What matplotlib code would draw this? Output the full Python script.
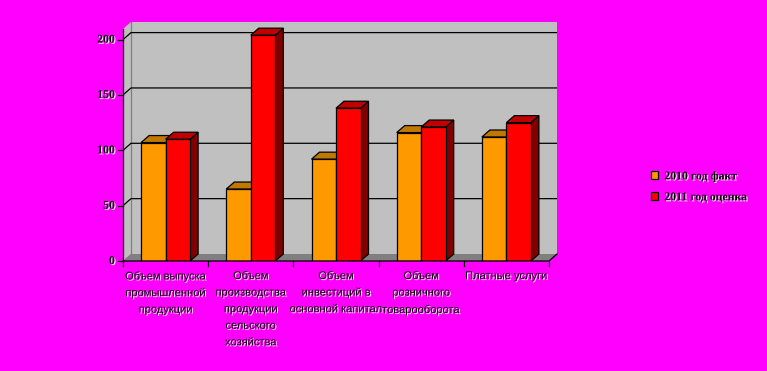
import matplotlib
matplotlib.use('Agg')
import matplotlib.pyplot as plt
from matplotlib.patches import Polygon, Rectangle, Patch
import matplotlib.patheffects as pe

categories = [
    "Объем выпуска\nпромышленной\nпродукции",
    "Объем\nпроизводства\nпродукции\nсельского\nхозяйства",
    "Объем\nинвестиций в\nосновной капитал",
    "Объем\nрозничного\nтоварооборота",
    "Платные услуги",
]
series_names = ["2010 год факт", "2011 год оценка"]
values_2010 = [107, 65, 92, 116, 112]
values_2011 = [110, 204, 138, 121, 125]
yticks = [0, 50, 100, 150, 200]

W, H = 767, 371
BG = '#FF00FF'
fig = plt.figure(figsize=(W / 100, H / 100), dpi=100, facecolor=BG)

ax_l, ax_r, ax_b, ax_t = 123, 557, 261, 22
ax = fig.add_axes([ax_l / W, (H - ax_b) / H, (ax_r - ax_l) / W, (ax_b - ax_t) / H])
ax.set_axis_off()
ax.patch.set_alpha(0)

px_x = 85.2
px_y = 1.107
xmax = (ax_r - ax_l) / px_x
ymax = (ax_b - ax_t) / px_y
ax.set_xlim(0, xmax)
ax.set_ylim(0, ymax)
dx = 8.0 / px_x
dy = 7.0 / px_y
n = len(categories)

shadow = [pe.SimplePatchShadow(offset=(0.8, -0.8), shadow_rgbFace='white', alpha=0.9), pe.Normal()]

# walls
ax.add_patch(Polygon([(0, 0), (dx, dy), (dx, ymax), (0, ymax - dy)], closed=True,
                     facecolor='#C0C0C0', edgecolor='none', zorder=1))
ax.add_patch(Rectangle((dx, dy), n, ymax - dy, facecolor='#C0C0C0', edgecolor='none', zorder=1))
ax.plot([dx, dx], [dy, ymax], color='#808080', lw=0.9, zorder=1.5)
# floor
ax.add_patch(Polygon([(0, 0), (n, 0), (n + dx, dy), (dx, dy)], closed=True,
                     facecolor='#808080', edgecolor='none', zorder=1.2))
# gridlines
for v in yticks[1:]:
    ax.plot([0, dx, n + dx], [v, v + dy, v + dy], color='black', lw=0.9, zorder=2)

# axes lines
ax.plot([0, 0], [0, ymax - dy], color='black', lw=0.9, zorder=6, clip_on=False)
ax.plot([0, n, n + dx], [0, 0, dy], color='black', lw=0.9, zorder=6, clip_on=False)
tick_x = 5 / px_x
tick_y = 5 / px_y
for v in yticks:
    ax.plot([-tick_x, 0], [v, v], color='black', lw=0.9, zorder=6, clip_on=False)
    ax.text(-8 / px_x, v, str(v), ha='right', va='center', fontsize=8.5,
            family='Liberation Serif', fontweight='bold', path_effects=shadow)
for i in range(n + 1):
    ax.plot([i, i], [0, -tick_y], color='black', lw=0.9, zorder=6, clip_on=False)

for i, lab in enumerate(categories):
    ax.text(i + 0.5, -10 / px_y, lab, ha='center', va='top', fontsize=8,
            family='Liberation Sans', linespacing=1.82, path_effects=shadow)

# bars
bw = 24.5 / px_x
start = (px_x - 2 * 24.5) / 2 / px_x
series = [(values_2010, '#FF9900', '#C07800', '#804C00'),
          (values_2011, '#FF0000', '#C00000', '#800000')]
for i in range(n):
    for j, (vals, fc, tc, sc) in enumerate(series):
        x0 = i + start + j * bw
        x1 = x0 + bw
        h = vals[i]
        z = 3 + i * 0.1 + j * 0.05
        ax.add_patch(Polygon([(x1, 0), (x1 + dx, dy), (x1 + dx, h + dy), (x1, h)], closed=True,
                             facecolor=sc, edgecolor='black', lw=0.9, zorder=z))
        ax.add_patch(Polygon([(x0, h), (x0 + dx, h + dy), (x1 + dx, h + dy), (x1, h)], closed=True,
                             facecolor=tc, edgecolor='black', lw=0.9, zorder=z))
        ax.bar(x0, h, width=bw, align='edge', color=fc, edgecolor='black', lw=0.9, zorder=z + 0.01)

handles = [Patch(facecolor='#FF9900', edgecolor='black', lw=0.9),
           Patch(facecolor='#FF0000', edgecolor='black', lw=0.9)]
leg = fig.legend(handles, series_names, loc='upper left',
                 bbox_to_anchor=(649 / W, (H - 168) / H), frameon=False,
                 prop={'family': 'Liberation Serif', 'weight': 'bold', 'size': 8.5},
                 handlelength=0.6, handleheight=0.6, handletextpad=0.5,
                 labelspacing=0.75, borderpad=0.2, borderaxespad=0)
for t in leg.get_texts():
    t.set_path_effects(shadow)

fig.savefig('out.png', dpi=100, facecolor=BG)
